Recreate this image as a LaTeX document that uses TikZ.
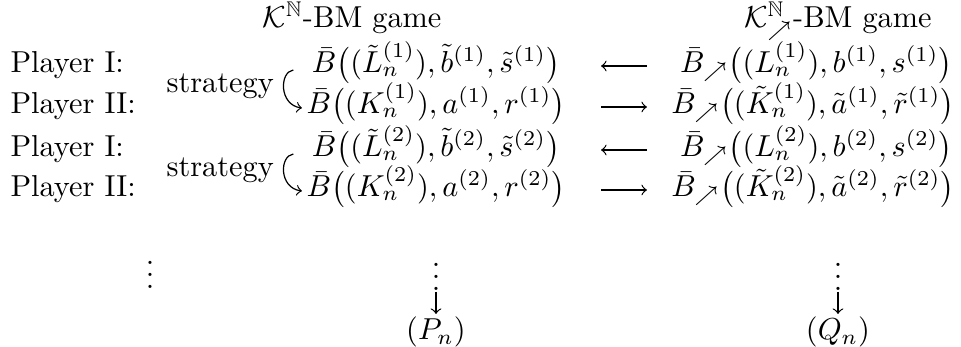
\documentclass[tikz,border=0pt]{standalone}
\usepackage{amssymb}
\begin{document}
\begin{tikzpicture}[x=0.33pt,y=-0.33pt,
  txt/.style={inner sep=0pt,anchor=base},
  lbl/.style={inner sep=0pt,anchor=base west},
  arr/.style={-to,line width=0.4pt}]
\useasboundingbox (0,0) rectangle (961,347);
% headers
\node[txt] (h1) at (352,28) {$\mathcal{K}^{\mathbb{N}}$-BM game};
\node[txt] (h2) at (838,28) {$\mathcal{K}^{\mathbb{N}}_{\nearrow}$-BM game};
% player labels
\node[lbl] (p1) at (10,73) {Player I:};
\node[lbl] (p2) at (10,114) {Player II:};
\node[lbl] (p3) at (10,157) {Player I:};
\node[lbl] (p4) at (10,197) {Player II:};
% strategy
\node[lbl] (s1) at (166,93) {strategy};
\node[lbl] (s2) at (166,177) {strategy};
% left column
\node[txt] (l1) at (436,73) {$\bar B\bigl((\tilde L_n^{(1)}), \tilde b^{(1)}, \tilde s^{(1)}\bigr)$};
\node[txt] (l2) at (436,114) {$\bar B\bigl((K_n^{(1)}), a^{(1)}, r^{(1)}\bigr)$};
\node[txt] (l3) at (436,157) {$\bar B\bigl((\tilde L_n^{(2)}), \tilde b^{(2)}, \tilde s^{(2)}\bigr)$};
\node[txt] (l4) at (436,197) {$\bar B\bigl((K_n^{(2)}), a^{(2)}, r^{(2)}\bigr)$};
% right column
\node[txt,anchor=base east] (r1) at (953,73) {$\bar B_{\nearrow}\bigl((L_n^{(1)}), b^{(1)}, s^{(1)}\bigr)$};
\node[txt,anchor=base east] (r2) at (955,114) {$\bar B_{\nearrow}\bigl((\tilde K_n^{(1)}), \tilde a^{(1)}, \tilde r^{(1)}\bigr)$};
\node[txt,anchor=base east] (r3) at (953,157) {$\bar B_{\nearrow}\bigl((L_n^{(2)}), b^{(2)}, s^{(2)}\bigr)$};
\node[txt,anchor=base east] (r4) at (955,197) {$\bar B_{\nearrow}\bigl((\tilde K_n^{(2)}), \tilde a^{(2)}, \tilde r^{(2)}\bigr)$};
% vdots
\node[inner sep=0pt] (d0) at (150,266) {$\vdots$};
\node[inner sep=0pt] (d1) at (436,268) {$\vdots$};
\node[inner sep=0pt] (d2) at (838,268) {$\vdots$};
% results
\node[txt] (P) at (436,340) {$(P_n)$};
\node[txt] (Q) at (838,340) {$(Q_n)$};
% horizontal arrows
\coordinate (a1s) at (601,66); \coordinate (a1e) at (647,66);
\coordinate (a2s) at (601,107); \coordinate (a2e) at (647,107);
\coordinate (a3s) at (601,150); \coordinate (a3e) at (647,150);
\coordinate (a4s) at (601,190); \coordinate (a4e) at (647,190);
\draw[arr] (a1e) -- (a1s);
\draw[arr] (a2s) -- (a2e);
\draw[arr] (a3e) -- (a3s);
\draw[arr] (a4s) -- (a4e);
% down arrows
\coordinate (t1) at (436,292); \coordinate (u1) at (436,314);
\coordinate (t2) at (838,292); \coordinate (u2) at (838,314);
\draw[arr] (t1) -- (u1);
\draw[arr] (t2) -- (u2);
% strategy arrows
\draw[arr] ([shift={(-18,-3)}]l1.base west) .. controls +(-14,2) and +(-23,-3) .. ([shift={(-4,-6)}]l2.base west);
\draw[arr] ([shift={(-18,-3)}]l3.base west) .. controls +(-14,2) and +(-23,-3) .. ([shift={(-4,-6)}]l4.base west);
\end{tikzpicture}
\end{document}
